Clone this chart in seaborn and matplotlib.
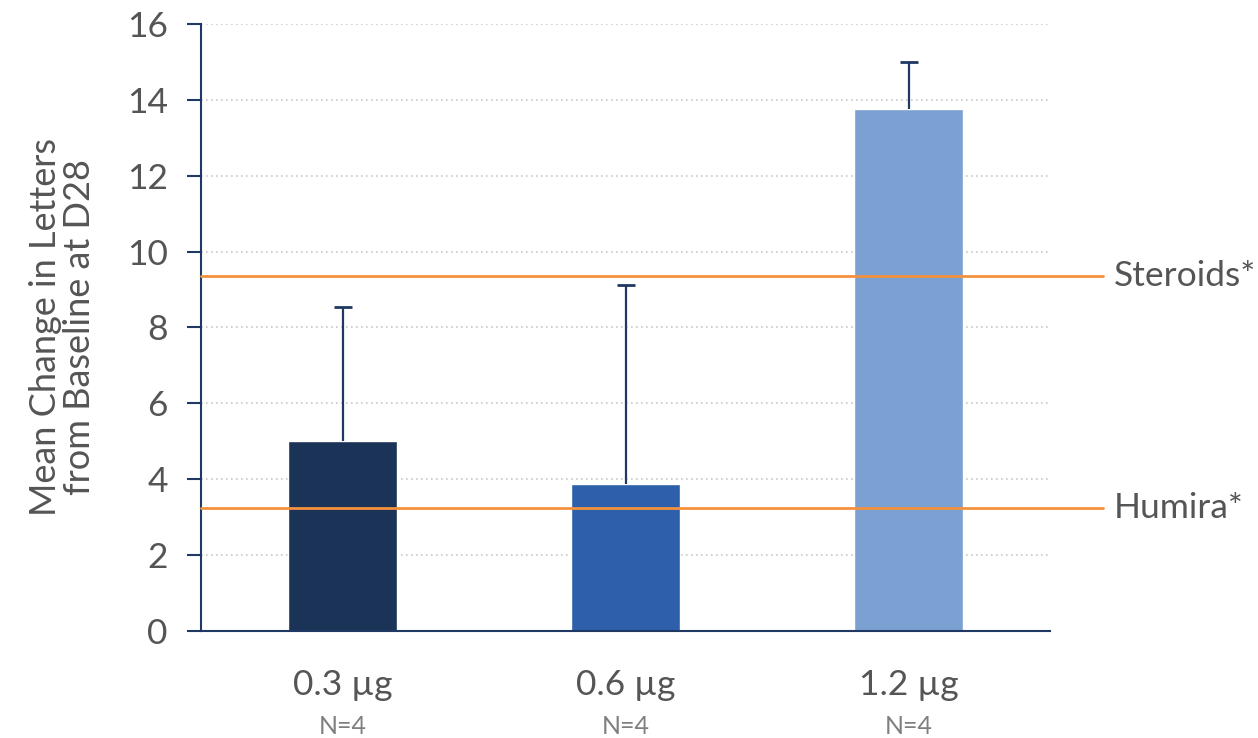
import matplotlib.pyplot as plt
import matplotlib.transforms as mtransforms
import pandas as pd
import seaborn as sns

# Chart data
doses = ['0.3 \u00b5g', '0.6 \u00b5g', '1.2 \u00b5g']
n_labels = ['N=4', 'N=4', 'N=4']
means = [5.0, 3.87, 13.75]
upper_err = [3.53, 5.25, 1.25]
ref_names = ['Steroids*', 'Humira*']
ref_values = [9.37, 3.23]
bar_colors = ['#1b3356', '#2e5fab', '#7ba1d3']

sns.set_style('white')
plt.rcParams['font.family'] = ['Lato', 'DejaVu Sans']

df = pd.DataFrame({'dose': doses, 'mean': means})

fig = plt.figure(figsize=(12.58, 7.38), dpi=100)
ax = fig.add_axes([0.1598, 0.145, 0.6749, 0.8225])

navy = '#1f3864'
text_col = '#555555'

# Bars
sns.barplot(
   ax=ax,
   data=df,
   x='dose',
   y='mean',
   hue='dose',
   palette=bar_colors,
   width=0.385,
   saturation=1,
   legend=False)

# Upper-only error bars (stem + top cap)
tops = [m + e for m, e in zip(means, upper_err)]
xs = list(range(len(doses)))
ax.vlines(xs, means, tops, color=navy, lw=1.6, zorder=3)
ax.plot(xs, tops, ls='none', marker='_', ms=13, mew=2, color=navy, zorder=3)

# Reference lines extending past the axes
for name, val in zip(ref_names, ref_values):
   ax.axhline(val, xmin=0, xmax=1.062, color='#f4913c', lw=2,
              clip_on=False, zorder=4)
   ax.text(1.075, val, name, transform=ax.get_yaxis_transform(),
           ha='left', va='center', fontsize=25.5, color=text_col)

# Axes styling
ax.set_xlim(-0.5, 2.5)
ax.set_ylim(0, 16)
ax.set_yticks(range(0, 17, 2))
ax.yaxis.grid(True, linestyle=(0, (1, 2)), color='#c8c8c8', lw=1.2)
ax.set_axisbelow(True)
for side in ['top', 'right']:
   ax.spines[side].set_visible(False)
for side in ['left', 'bottom']:
   ax.spines[side].set_color(navy)
   ax.spines[side].set_linewidth(1.5)

ax.tick_params(axis='y', which='major', left=True, length=10, width=1.5,
               color=navy, pad=14, labelsize=25.5, labelcolor=text_col)
ax.tick_params(axis='x', bottom=False, pad=24, labelsize=25.5,
               labelcolor=text_col)

ax.set_xlabel('')
ax.set_ylabel('Mean Change in Letters\nfrom Baseline at D28',
              fontsize=26, color=text_col, labelpad=22, linespacing=1.05)

# N counts under the dose labels
trans = mtransforms.blended_transform_factory(ax.transData, fig.transFigure)
for i, n in enumerate(n_labels):
   ax.text(i, 12 / 738, n, transform=trans, ha='center', va='center',
           fontsize=18, color='#7f7f7f')

fig.savefig('out.png', dpi=100)
